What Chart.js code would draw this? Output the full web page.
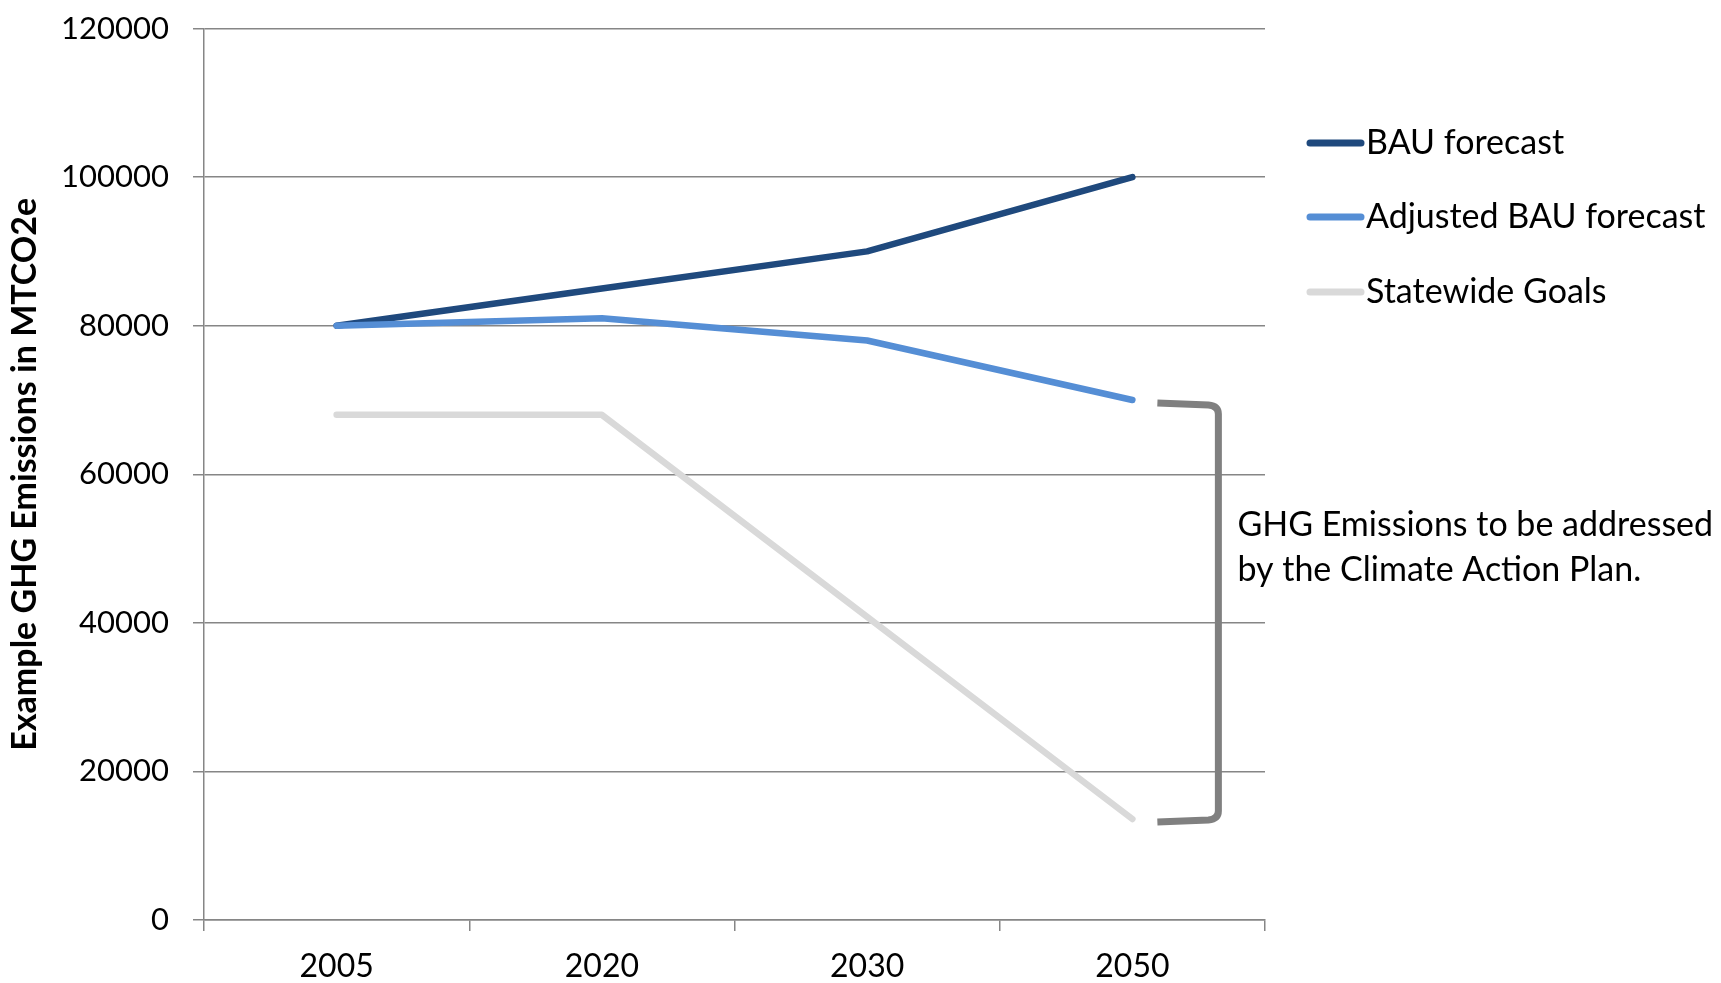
<!DOCTYPE html>
<html>
<head>
<meta charset="utf-8">
<script src="https://cdn.jsdelivr.net/npm/chart.js@4.4.1/dist/chart.umd.min.js"></script>
<style>
html, body { margin: 0; padding: 0; background: #fff; }
#wrap { width: 1721px; height: 983px; }
</style>
</head>
<body>
<div id="wrap"><canvas id="ghgChart"></canvas></div>
<script>
// values
var years = ['2005', '2020', '2030', '2050'];
var bauForecast = [80000, 85000, 90000, 100000];
var adjustedBau = [80000, 81000, 78000, 70000];
var statewideGoals = [68000, 68000, 40800, 13600];
var seriesNames = ['BAU forecast', 'Adjusted BAU forecast', 'Statewide Goals'];
var seriesColors = ['#1F497D', '#558ED5', '#D9D9D9'];
var yMin = 0, yMax = 120000, yStep = 20000;
var noteLines = ['GHG Emissions to be addressed', 'by the Climate Action Plan.'];

var FONT = 'Lato, "Open Sans", sans-serif';
var GRID = '#868686';

// legend drawn as line swatches on the right
var legendLines = {
    id: 'legendLines',
    afterDraw: function(chart) {
        var ctx = chart.ctx;
        var x0 = chart.chartArea.right + 42;
        var rows = [143, 217, 292];
        ctx.save();
        ctx.font = '34px ' + FONT;
        ctx.textBaseline = 'middle';
        ctx.fillStyle = '#000';
        chart.data.datasets.forEach(function(ds, i) {
            ctx.strokeStyle = ds.borderColor;
            ctx.lineWidth = 7;
            ctx.lineCap = 'round';
            ctx.beginPath();
            ctx.moveTo(x0 + 3, rows[i]);
            ctx.lineTo(x0 + 54, rows[i]);
            ctx.stroke();
            ctx.fillText(ds.label, x0 + 59, rows[i]);
        });
        ctx.restore();
    }
};

// bracket between adjusted BAU and the goal in the last year
var gapBracket = {
    id: 'gapBracket',
    afterDraw: function(chart) {
        var ctx = chart.ctx;
        var xs = chart.scales.x, ys = chart.scales.y;
        var last = years.length - 1;
        var x = xs.getPixelForValue(last);
        var yTop = ys.getPixelForValue(adjustedBau[last]) + 4;
        var yBot = ys.getPixelForValue(statewideGoals[last]) + 2;
        var xv = x + 86;
        ctx.save();
        ctx.strokeStyle = '#808080';
        ctx.lineWidth = 7;
        ctx.beginPath();
        ctx.moveTo(x + 25, yTop - 1);
        ctx.lineTo(xv - 10, yTop + 1);
        ctx.quadraticCurveTo(xv, yTop + 2, xv, yTop + 10);
        ctx.lineTo(xv, yBot - 10);
        ctx.quadraticCurveTo(xv, yBot - 2, xv - 10, yBot - 1);
        ctx.lineTo(x + 25, yBot + 1);
        ctx.stroke();

        ctx.font = '34px ' + FONT;
        ctx.fillStyle = '#000';
        ctx.textBaseline = 'middle';
        ctx.fillText(noteLines[0], xv + 19, 525);
        ctx.fillText(noteLines[1], xv + 19, 570);
        ctx.restore();
    }
};

var ctx = document.getElementById('ghgChart').getContext('2d');
var ghgChart = new Chart(ctx, {
    type: 'line',
    data: {
        labels: years,
        datasets: [
            { label: seriesNames[0], data: bauForecast, borderColor: seriesColors[0], order: 3 },
            { label: seriesNames[1], data: adjustedBau, borderColor: seriesColors[1], order: 2 },
            { label: seriesNames[2], data: statewideGoals, borderColor: seriesColors[2], order: 1 }
        ]
    },
    options: {
        responsive: true,
        maintainAspectRatio: false,
        animation: false,
        layout: { padding: { top: 28.5, right: 456, bottom: 0, left: 0 } },
        elements: {
            line: { borderWidth: 6.5, tension: 0, borderCapStyle: 'round', borderJoinStyle: 'round', fill: false },
            point: { radius: 0, hoverRadius: 0 }
        },
        plugins: {
            legend: { display: false },
            tooltip: { enabled: false }
        },
        scales: {
            x: {
                offset: true,
                grid: { offset: true, drawOnChartArea: false, drawTicks: true, tickLength: 11, color: GRID, lineWidth: 1.5 },
                border: { color: GRID, width: 1.5 },
                ticks: { color: '#000', font: { family: FONT, size: 32 }, padding: 16 },
                afterFit: function(scale) { scale.height = 63; }
            },
            y: {
                min: yMin,
                max: yMax,
                grid: { color: GRID, lineWidth: 1.5, tickLength: 11 },
                border: { color: GRID, width: 1.5 },
                ticks: {
                    stepSize: yStep,
                    color: '#000',
                    font: { family: FONT, size: 31 },
                    padding: 24,
                    callback: function(v) { return String(v); }
                },
                title: {
                    display: true,
                    text: 'Example GHG Emissions in MTCO2e',
                    color: '#000',
                    font: { family: FONT, size: 34, weight: 'bold' },
                    padding: { top: 5, bottom: 0 }
                },
                afterFit: function(scale) {
                    scale.width = 204;
                    scale.paddingTop = 0;
                    scale.paddingBottom = 0;
                }
            }
        }
    },
    plugins: [legendLines, gapBracket]
});
</script>
</body>
</html>
